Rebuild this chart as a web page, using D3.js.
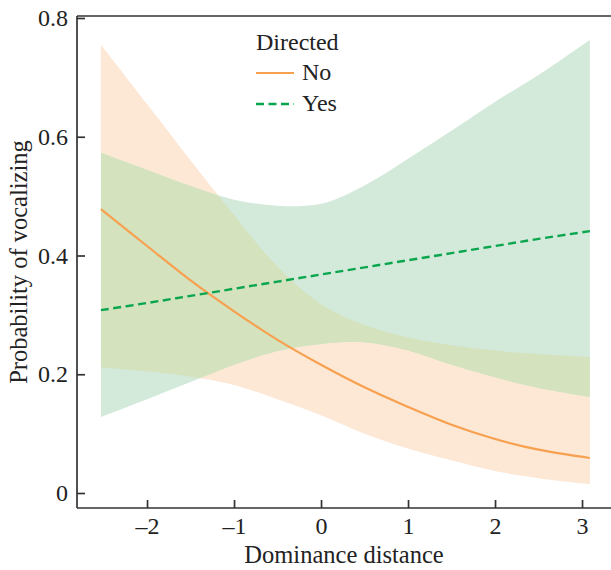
<!DOCTYPE html>
<html>
   <head>
      <meta charset="utf-8">
      <script src="https://cdn.jsdelivr.net/npm/d3@7/dist/d3.min.js"></script>
      <style>
         body { margin: 0; background: #fff; }
         svg text { font-family: "Liberation Serif", "DejaVu Serif", serif; fill: #222; }
      </style>
   </head>
   <body>
      <script>
         // dominance distance grid the curves were read at
         var dist = [-2.53, -2, -1.5, -1, -0.5, 0, 0.5, 1, 1.5, 2, 2.5, 3.09];

         // Directed = No
         var no_fit   = [0.478, 0.416, 0.358, 0.306, 0.258, 0.216, 0.178, 0.145, 0.115, 0.091, 0.073, 0.059];
         var no_upper = [0.755, 0.655, 0.560, 0.468, 0.381, 0.318, 0.283, 0.262, 0.249, 0.240, 0.234, 0.229];
         var no_lower = [0.212, 0.205, 0.196, 0.182, 0.158, 0.131, 0.100, 0.075, 0.055, 0.037, 0.025, 0.015];

         // Directed = Yes
         var yes_fit   = [0.308, 0.320, 0.332, 0.344, 0.356, 0.368, 0.380, 0.392, 0.404, 0.416, 0.428, 0.441];
         var yes_upper = [0.573, 0.544, 0.517, 0.494, 0.484, 0.487, 0.518, 0.563, 0.610, 0.659, 0.704, 0.763];
         var yes_lower = [0.128, 0.158, 0.187, 0.216, 0.239, 0.251, 0.254, 0.240, 0.216, 0.195, 0.177, 0.162];

         var x_ticks = [-2, -1, 0, 1, 2, 3];
         var y_ticks = [0, 0.2, 0.4, 0.6, 0.8];
         var legend_labels = ["No", "Yes"];

         var width = 611, height = 570;
         var frame = { left: 77, top: 16, bottom: 508, right: 611 };
         var font = "'Liberation Serif', 'DejaVu Serif', serif";

         var x = d3.scaleLinear().domain([-2.805, 3.333]).range([frame.left, frame.right]);
         var y = d3.scaleLinear().domain([0, 0.8]).range([493, 18]);

         var svg = d3.select("body").append("svg")
            .attr("width", width).attr("height", height);

         function rows(lo, hi, fit) {
            return dist.map(function(d, i) { return { x: d, lo: lo[i], hi: hi[i], fit: fit[i] }; });
         }
         var no_rows = rows(no_lower, no_upper, no_fit);
         var yes_rows = rows(yes_lower, yes_upper, yes_fit);

         var curve = d3.curveCatmullRom.alpha(0.5);
         var band = d3.area().curve(curve)
            .x(function(d) { return x(d.x); })
            .y0(function(d) { return y(d.lo); })
            .y1(function(d) { return y(d.hi); });
         var fit_line = d3.line().curve(curve)
            .x(function(d) { return x(d.x); })
            .y(function(d) { return y(d.fit); });

         svg.append("defs").append("clipPath").attr("id", "no_clip")
            .append("path").attr("d", band(no_rows));

         // bands: orange, green, then overlap colour
         svg.append("path").attr("d", band(no_rows)).attr("fill", "#fde7d5");
         svg.append("path").attr("d", band(yes_rows)).attr("fill", "#d3e9da");
         svg.append("path").attr("d", band(yes_rows)).attr("fill", "#d4e2bd")
            .attr("clip-path", "url(#no_clip)");

         svg.append("path").attr("d", fit_line(no_rows))
            .attr("fill", "none").attr("stroke", "#f7a150").attr("stroke-width", 2.2);
         svg.append("path").attr("d", fit_line(yes_rows))
            .attr("fill", "none").attr("stroke", "#0aa64e").attr("stroke-width", 2.4)
            .attr("stroke-dasharray", "8,4.5");

         // axes, ticks inside
         var y_axis = d3.axisLeft(y).tickValues(y_ticks).tickSize(-8).tickPadding(9)
            .tickFormat(function(d) { return d === 0 ? "0" : d.toFixed(1); });
         var x_axis = d3.axisBottom(x).tickValues(x_ticks).tickSize(-8).tickPadding(9)
            .tickFormat(function(d) { return d < 0 ? "\u2013" + Math.abs(d) : d; });

         var gy = svg.append("g").attr("transform", "translate(" + frame.left + ",0)").call(y_axis);
         var gx = svg.append("g").attr("transform", "translate(0," + frame.bottom + ")").call(x_axis);
         [gy, gx].forEach(function(g) {
            g.attr("font-family", null).attr("font-size", null);
            g.select(".domain").remove();
            g.selectAll("line").attr("stroke", "#333").attr("stroke-width", 1.7);
            g.selectAll("text").attr("fill", "#222")
               .style("font-family", font).style("font-size", "24px");
         });

         var frame_lines = [
            [frame.left, frame.top, frame.left, frame.bottom],
            [frame.left, frame.top, frame.right, frame.top],
            [frame.left, frame.bottom, frame.right, frame.bottom]
         ];
         svg.selectAll("line.frame").data(frame_lines).enter().append("line")
            .attr("class", "frame")
            .attr("x1", function(d) { return d[0]; }).attr("y1", function(d) { return d[1]; })
            .attr("x2", function(d) { return d[2]; }).attr("y2", function(d) { return d[3]; })
            .attr("stroke", "#333").attr("stroke-width", 1.7);

         // axis titles
         svg.append("text").attr("x", (frame.left + frame.right) / 2).attr("y", 563)
            .attr("text-anchor", "middle").style("font-family", font).style("font-size", "24.5px")
            .text("Dominance distance");
         svg.append("text").attr("transform", "translate(27," + ((frame.top + frame.bottom) / 2) + ") rotate(-90)")
            .attr("text-anchor", "middle").style("font-family", font).style("font-size", "24.5px")
            .text("Probability of vocalizing");

         // legend
         var legend = svg.append("g").attr("transform", "translate(256,0)");
         legend.append("text").attr("x", 0).attr("y", 50)
            .style("font-family", font).style("font-size", "24px").text("Directed");
         var leg_styles = [
            { stroke: "#f7a150", dash: null, w: 2.2 },
            { stroke: "#0aa64e", dash: "8,4.5", w: 2.4 }
         ];
         legend_labels.forEach(function(lab, i) {
            var ly = 73 + i * 31;
            legend.append("line").attr("x1", 0).attr("x2", 38).attr("y1", ly).attr("y2", ly)
               .attr("stroke", leg_styles[i].stroke).attr("stroke-width", leg_styles[i].w)
               .attr("stroke-dasharray", leg_styles[i].dash);
            legend.append("text").attr("x", 46).attr("y", ly + 7)
               .style("font-family", font).style("font-size", "24px").text(lab);
         });
      </script>
   </body>
</html>
